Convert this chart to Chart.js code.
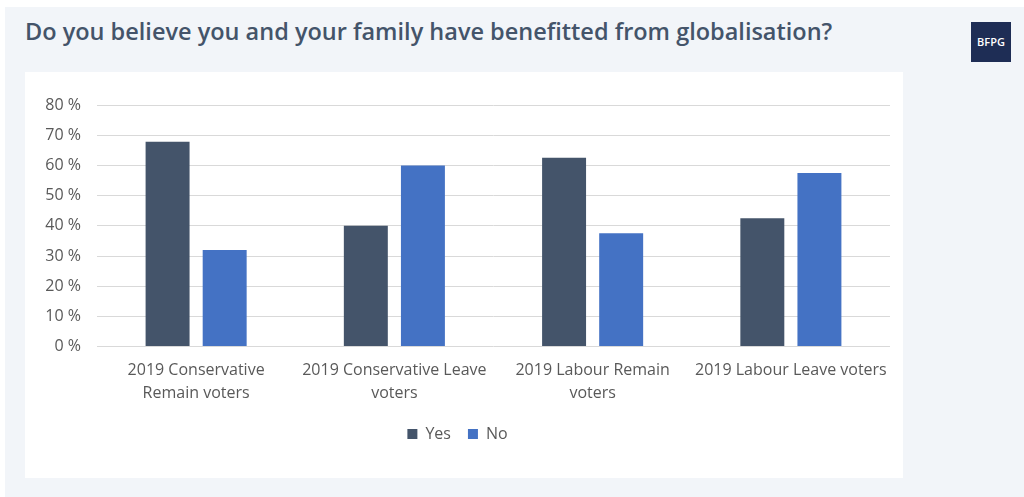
<!DOCTYPE html>
<html>
<head>
<meta charset="utf-8">
<script src="https://cdn.jsdelivr.net/npm/chart.js@4"></script>
<style>
  body { margin: 0; background: #fff; font-family: "Open Sans", sans-serif; }
  #page { position: absolute; left: 5px; top: 7px; width: 1019px; height: 490px; background: #f2f5f9; }
  #title { position: absolute; left: 25px; top: 15px; font-size: 23.5px; font-weight: 600; color: #44546a; white-space: nowrap; }
  #logo { position: absolute; left: 971px; top: 22px; width: 40px; height: 40px; background: #1e2d55;
          color: #fff; font-size: 11px; font-weight: 600; line-height: 40px; text-align: center; }
  #panel { position: absolute; left: 25px; top: 72px; width: 878px; height: 406px; background: #fff; }
</style>
</head>
<body>
<div id="page"></div>
<div id="title">Do you believe you and your family have benefitted from globalisation?</div>
<div id="logo">BFPG</div>
<div id="panel"><canvas id="myChart"></canvas></div>
<script>
var categories = [
  ['2019 Conservative', 'Remain voters'],
  ['2019 Conservative Leave', 'voters'],
  ['2019 Labour Remain', 'voters'],
  ['2019 Labour Leave voters']
]
var yesValues = [67.8, 40, 62.5, 42.5]
var noValues = [32, 60, 37.5, 57.5]

const ctx = document.getElementById('myChart');

var chart = new Chart(ctx, {
  type: 'bar',
  data: {
    labels: categories,
    datasets: [
      { label: 'Yes', data: yesValues, backgroundColor: '#44546a' },
      { label: 'No', data: noValues, backgroundColor: '#4472c4' }
    ]
  },
  options: {
    responsive: true,
    maintainAspectRatio: false,
    animation: false,
    categoryPercentage: 0.576,
    barPercentage: 0.77,
    layout: { padding: { top: 33, right: 13, bottom: 26, left: 0 } },
    plugins: {
      tooltip: { enabled: false },
      legend: {
        position: 'bottom',
        labels: { boxWidth: 10, boxHeight: 10, color: '#595959', font: { family: 'Open Sans', size: 16 }, padding: 17 }
      }
    },
    scales: {
      x: {
        grid: { display: false },
        border: { display: false },
        ticks: { color: '#595959', font: { family: 'Open Sans', size: 16, lineHeight: 1.45 }, padding: 4, maxRotation: 0, autoSkip: false }
      },
      y: {
        min: 0, max: 80,
        grid: { color: '#d9d9d9', drawTicks: false },
        border: { display: false },
        afterFit: function (s) { s.width = 72 },
        ticks: { stepSize: 10, padding: 16, color: '#595959', font: { family: 'Open Sans', size: 16 },
                 callback: function (v) { return v + ' %' } }
      }
    }
  }
})
</script>
</body>
</html>
